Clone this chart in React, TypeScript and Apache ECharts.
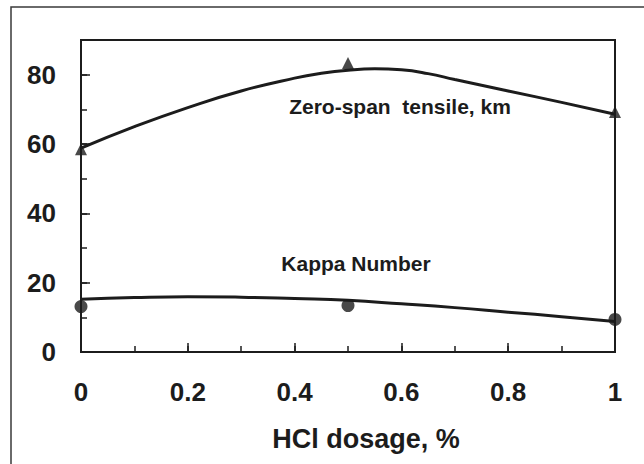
import React, { useEffect, useRef } from "react";
import * as echarts from "echarts";

// Measured points
const dosage = [0, 0.5, 1];
const zeroSpanTensile = [58.5, 83.4, 69.2];
const kappaNumber = [13.1, 13.4, 9.4];

// Fitted curves
const zeroSpanCurveX = [0, 0.1, 0.2, 0.3, 0.4, 0.45, 0.5, 0.55, 0.6, 0.65, 0.7, 0.8, 0.9, 1.0];
const zeroSpanCurve = [58.8, 65.0, 70.5, 75.3, 79.0, 80.4, 81.3, 81.7, 81.4, 80.3, 78.6, 75.3, 72.0, 68.6];
const kappaCurveX = [0, 0.1, 0.2, 0.3, 0.4, 0.5, 0.6, 0.7, 0.8, 0.9, 1.0];
const kappaCurve = [15.2, 15.7, 15.95, 15.8, 15.4, 14.9, 13.9, 12.8, 11.5, 10.2, 8.8];

const xTickLabels = ["0", "0.2", "0.4", "0.6", "0.8", "1"];
const yTickLabels = ["0", "20", "40", "60", "80"];

const FONT = "'Liberation Sans', Arial, sans-serif";
const INK = "#1c1c1c";

export default function App() {
  const ref = useRef<HTMLDivElement>(null);
  useEffect(() => {
    document.body.style.margin = "0";
    if (!ref.current) return;
    const chart = echarts.init(ref.current, undefined, { renderer: "svg" });
    const pairs = (xs: number[], ys: number[]) => xs.map((x, i) => [x, ys[i]]);
    const labelStyle = { fontFamily: FONT, fontWeight: "bold" as const, fontSize: 26, color: INK };
    chart.setOption({
      animation: false,
      backgroundColor: "#fff",
      grid: {
        left: 81,
        top: 40,
        right: 29,
        bottom: 112,
        show: true,
        borderColor: INK,
        borderWidth: 2,
      },
      xAxis: [
        {
          type: "value",
          min: 0,
          max: 1,
          interval: 0.2,
          axisLine: { show: true, lineStyle: { color: INK, width: 2 } },
          axisTick: { show: true, inside: true, length: 9, lineStyle: { color: INK, width: 1.5 } },
          splitLine: { show: false },
          axisLabel: {
            ...labelStyle,
            margin: 27,
            formatter: (v: number) => {
              const i = Math.round(v / 0.2);
              return xTickLabels[i] ?? "";
            },
          },
        },
        {
          type: "value",
          min: 0,
          max: 1,
          interval: 0.1,
          position: "bottom",
          axisLine: { show: false },
          axisTick: { show: true, inside: true, length: 6, lineStyle: { color: INK, width: 1.5 } },
          splitLine: { show: false },
          axisLabel: { show: false },
        },
      ],
      yAxis: [
        {
          type: "value",
          min: 0,
          max: 90,
          interval: 20,
          axisLine: { show: true, lineStyle: { color: INK, width: 2 } },
          axisTick: { show: true, inside: true, length: 9, lineStyle: { color: INK, width: 1.5 } },
          splitLine: { show: false },
          axisLabel: {
            ...labelStyle,
            margin: 25,
            formatter: (v: number) => {
              const i = Math.round(v / 20);
              return v % 20 === 0 ? yTickLabels[i] ?? "" : "";
            },
          },
        },
        {
          type: "value",
          min: 0,
          max: 90,
          interval: 10,
          position: "left",
          axisLine: { show: false },
          axisTick: { show: true, inside: true, length: 6, lineStyle: { color: INK, width: 1.5 } },
          splitLine: { show: false },
          axisLabel: { show: false },
        },
      ],
      graphic: [
        {
          type: "rect",
          shape: { x: 11, y: 7, width: 700, height: 520 },
          style: { fill: "none", stroke: "#3a3a3a", lineWidth: 1.5 },
          silent: true,
          z: -1,
        },
        {
          type: "text",
          x: 366,
          y: 439,
          style: {
            text: "HCl dosage, %",
            fontFamily: FONT,
            fontWeight: "bold",
            fontSize: 27,
            fill: INK,
            textAlign: "center",
            textVerticalAlign: "middle",
          },
        },
        {
          type: "text",
          x: 400,
          y: 106,
          style: {
            text: "Zero-span  tensile, km",
            fontFamily: FONT,
            fontWeight: "bold",
            fontSize: 21,
            fill: INK,
            textAlign: "center",
            textVerticalAlign: "middle",
          },
        },
        {
          type: "text",
          x: 356,
          y: 263,
          style: {
            text: "Kappa Number",
            fontFamily: FONT,
            fontWeight: "bold",
            fontSize: 21,
            fill: INK,
            textAlign: "center",
            textVerticalAlign: "middle",
          },
        },
      ],
      series: [
        {
          type: "line",
          data: pairs(zeroSpanCurveX, zeroSpanCurve),
          smooth: true,
          showSymbol: false,
          lineStyle: { color: INK, width: 3 },
          clip: false,
        },
        {
          type: "line",
          data: pairs(kappaCurveX, kappaCurve),
          smooth: true,
          showSymbol: false,
          lineStyle: { color: INK, width: 3 },
          clip: false,
        },
        {
          type: "scatter",
          data: pairs(dosage, zeroSpanTensile),
          symbol: "triangle",
          symbolSize: [12, 12],
          itemStyle: { color: INK },
          clip: false,
          z: 5,
        },
        {
          type: "scatter",
          data: pairs(dosage, kappaNumber),
          symbol: "circle",
          symbolSize: 13,
          itemStyle: { color: INK },
          clip: false,
          z: 5,
        },
      ],
    });
    return () => chart.dispose();
  }, []);
  return <div ref={ref} style={{ width: 644, height: 464 }} />;
}
